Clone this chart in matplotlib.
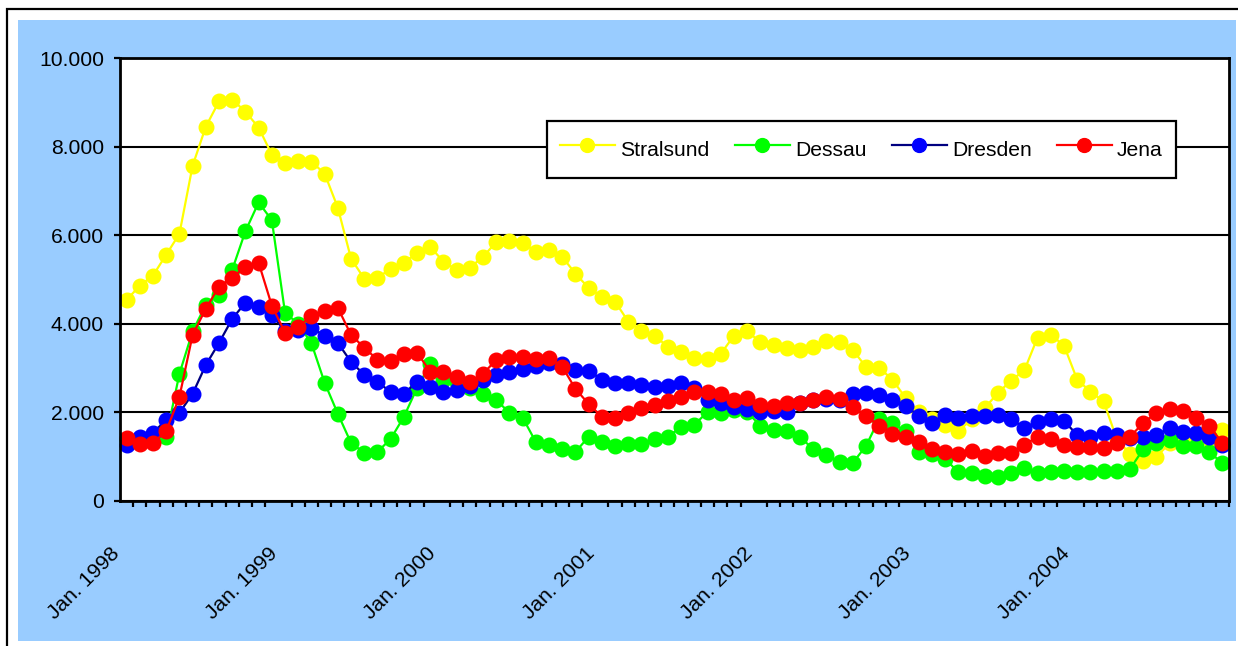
import matplotlib
matplotlib.use("Agg")
import matplotlib.pyplot as plt
from matplotlib.patches import Rectangle

plt.rcParams['font.family'] = ['Liberation Sans', 'DejaVu Sans']

# monthly categories Jan 1998 .. Dec 2004
years = list(range(1998, 2005))
months = ["Jan.", "Feb.", "Mrz.", "Apr.", "Mai", "Jun.", "Jul.", "Aug.", "Sep.", "Okt.", "Nov.", "Dez."]
categories = [m + " " + str(y) for y in years for m in months]

series_names = ["Stralsund", "Dessau", "Dresden", "Jena"]

stralsund = [4540, 4860, 5090, 5560, 6030, 7570, 8450, 9020, 9060, 8790, 8430, 7820,
             7640, 7680, 7660, 7390, 6620, 5470, 5020, 5040, 5240, 5380, 5600, 5740,
             5400, 5220, 5270, 5510, 5850, 5880, 5830, 5630, 5670, 5510, 5130, 4810,
             4610, 4500, 4050, 3840, 3730, 3480, 3360, 3230, 3210, 3320, 3730, 3840,
             3580, 3520, 3450, 3410, 3470, 3620, 3590, 3410, 3030, 3010, 2740, 2330,
             2010, 1850, 1720, 1580, 1840, 2100, 2440, 2720, 2950, 3690, 3750, 3510,
             2740, 2470, 2250, 1400, 1060, 900, 1000, 1300, 1420, 1380, 1400, 1610]

dessau = [1380, 1350, 1420, 1450, 2870, 3830, 4430, 4660, 5220, 6090, 6740, 6340,
          4250, 4000, 3560, 2670, 1970, 1310, 1090, 1110, 1400, 1900, 2550, 3100,
          2740, 2690, 2550, 2420, 2280, 1990, 1880, 1330, 1270, 1180, 1110, 1450,
          1330, 1240, 1290, 1290, 1400, 1450, 1670, 1720, 2010, 1990, 2060, 2010,
          1700, 1600, 1580, 1450, 1170, 1040, 880, 860, 1240, 1850, 1750, 1580,
          1110, 1070, 950, 650, 630, 570, 540, 630, 740, 630, 650, 680,
          650, 660, 680, 680, 720, 1170, 1320, 1380, 1250, 1250, 1100, 860]

dresden = [1270, 1450, 1540, 1830, 1990, 2420, 3070, 3570, 4110, 4480, 4380, 4200,
           3840, 3870, 3910, 3730, 3570, 3140, 2850, 2690, 2460, 2420, 2690, 2580,
           2460, 2510, 2600, 2740, 2850, 2920, 2980, 3050, 3120, 3100, 2960, 2940,
           2740, 2670, 2670, 2620, 2580, 2600, 2670, 2550, 2280, 2220, 2120, 2080,
           2010, 2030, 2010, 2220, 2280, 2310, 2280, 2420, 2440, 2400, 2280, 2150,
           1920, 1760, 1940, 1880, 1920, 1920, 1940, 1850, 1650, 1790, 1850, 1810,
           1490, 1450, 1540, 1490, 1420, 1450, 1490, 1650, 1560, 1540, 1450, 1270]

jena = [1420, 1290, 1310, 1580, 2350, 3750, 4340, 4840, 5040, 5290, 5380, 4410,
        3800, 3930, 4180, 4290, 4360, 3750, 3460, 3190, 3160, 3320, 3350, 2920,
        2920, 2800, 2690, 2870, 3190, 3250, 3250, 3210, 3230, 3030, 2530, 2190,
        1900, 1880, 1990, 2100, 2170, 2260, 2350, 2460, 2460, 2420, 2280, 2330,
        2170, 2150, 2220, 2220, 2280, 2350, 2300, 2120, 1920, 1700, 1510, 1450,
        1330, 1180, 1110, 1060, 1130, 1020, 1080, 1090, 1270, 1450, 1400, 1270,
        1220, 1220, 1200, 1310, 1450, 1760, 1990, 2080, 2030, 1880, 1700, 1310]

ytick_vals = [0, 2000, 4000, 6000, 8000, 10000]
ytick_labels = ["0", "2.000", "4.000", "6.000", "8.000", "10.000"]

line_colors = ["#FFFF00", "#00FF00", "#000080", "#FF0000"]
marker_colors = ["#FFFF00", "#00FF00", "#0000FF", "#FF0000"]

FS = 15.2
W, H = 1238, 646
fig = plt.figure(figsize=(W / 100, H / 100), dpi=100)
fig.patch.set_facecolor("white")

# outer frame and pale blue chart area
fig.add_artist(Rectangle((7 / W, -0.1), 1.2, 1 - 9 / H + 0.1, transform=fig.transFigure,
                         fill=False, ec="black", lw=1.6, zorder=-2))
fig.add_artist(Rectangle((18 / W, 1 - 641 / H), (1236 - 18) / W, (641 - 20) / H,
                         transform=fig.transFigure, fc="#99CCFF", ec="none", zorder=-1))

ax = fig.add_axes([120 / W, 1 - 501 / H, (1229 - 120) / W, (501 - 58) / H])
ax.set_facecolor("white")

x = list(range(len(categories)))
for name, vals, lc, mc in zip(series_names, [stralsund, dessau, dresden, jena], line_colors, marker_colors):
    ax.plot(x, vals, color=lc, lw=1.6, marker="o", markersize=10.5,
            markerfacecolor=mc, markeredgecolor=mc, label=name, clip_on=False)

ax.set_yticks(ytick_vals)
ax.set_yticklabels(ytick_labels)
ax.yaxis.grid(True, color="black", lw=1.5)
ax.set_axisbelow(True)

# yearly labels on invisible major ticks at the start of each January
label_idx = list(range(0, len(categories), 12))
ax.set_xticks([i - 0.5 for i in label_idx])
ax.set_xticklabels([categories[i] for i in label_idx], rotation=45, ha="right",
                   va="baseline", rotation_mode="anchor")
ax.set_xticks([i - 0.5 for i in range(len(categories) + 1)], minor=True)
ax.tick_params(axis="x", which="major", length=0, pad=38.5, labelsize=FS)
ax.tick_params(axis="x", which="minor", length=4.5, width=1.6, direction="out")
ax.tick_params(axis="y", length=4.5, width=1.6, direction="out", pad=7, labelsize=FS)

ax.set_xlim(-0.5, len(categories) - 0.5)
ax.set_ylim(0, 10000)

for s in ax.spines.values():
    s.set_linewidth(2)
    s.set_color("black")

leg = ax.legend(loc="center", bbox_to_anchor=(861.5 / W, 1 - 149.5 / H),
                bbox_transform=fig.transFigure, ncol=4, fontsize=FS, frameon=True,
                fancybox=False, edgecolor="black", framealpha=1, handlelength=2.6,
                handleheight=1.9, handletextpad=0.25, columnspacing=1.2,
                borderpad=0.6, markerscale=0.95)
leg.get_frame().set_linewidth(1.6)

fig.savefig("out.png", dpi=100)
